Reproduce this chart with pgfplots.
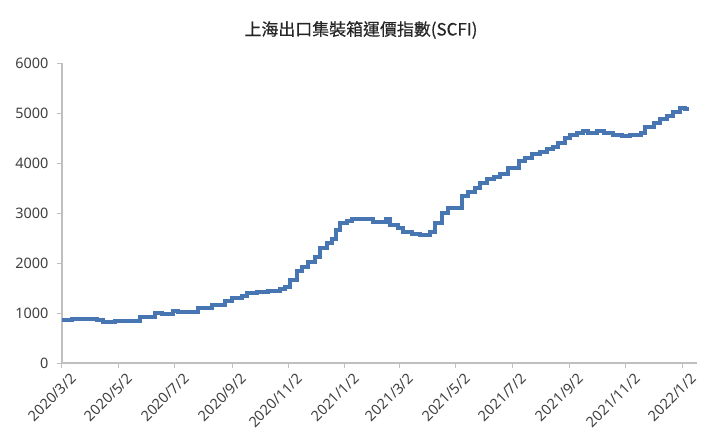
\documentclass[border=0pt]{standalone}
\usepackage{pgfplots}
\pgfplotsset{compat=1.18}
\usepackage{pgfplotstable}
\usepackage{fontspec}
\setmainfont{Noto Sans}
\newfontfamily\cjk[FakeBold=0.6]{Noto Sans CJK TC}
\definecolor{lineblue}{RGB}{72,118,178}
\definecolor{axgray}{RGB}{191,191,191}
\definecolor{txt}{RGB}{64,64,64}

% SCFI; x = days since 2020/3/2
\pgfplotstableread{
day value
0 860
11 890
23 873
38 860
44 813
57 840
84 913
101 1007
108 980
120 1040
126 1020
147 1093
162 1160
176 1247
184 1293
195 1340
200 1393
211 1427
223 1450
236 1473
241 1527
247 1660
254 1847
260 1913
266 2027
274 2127
279 2293
287 2393
292 2480
296 2660
301 2793
308 2847
314 2873
337 2827
350 2873
355 2760
363 2693
369 2627
379 2580
387 2560
398 2627
404 2807
411 2993
418 3093
433 3340
439 3427
447 3493
452 3593
460 3680
467 3727
474 3773
482 3907
494 4047
501 4093
509 4180
517 4227
525 4273
531 4327
537 4393
544 4493
550 4560
557 4607
564 4640
569 4607
579 4640
586 4593
596 4560
606 4540
615 4560
626 4607
631 4713
640 4793
647 4873
655 4947
661 5027
669 5093
674 5073
678 5073
}\scfi

\begin{document}
\begin{tikzpicture}
\useasboundingbox (-62bp,-83bp) rectangle (658bp,363bp);
\begin{axis}[
  at={(0,0)}, anchor=south west,
  scale only axis, width=635bp, height=300bp,
  xmin=0, xmax=687, ymin=0, ymax=6000,
  axis x line*=bottom, axis y line*=left,
  axis line style={axgray, line width=1.3bp},
  tick style={axgray, line width=1bp},
  tick align=outside, major tick length=5bp,
  xtick={0,61,122,184,245,306,365,426,487,549,610,671},
  xticklabels={2020/3/2,2020/5/2,2020/7/2,2020/9/2,2020/11/2,2021/1/2,2021/3/2,2021/5/2,2021/7/2,2021/9/2,2021/11/2,2022/1/2},
  ytick={0,1000,...,6000},
  /pgf/number format/assume math mode=true,
  /pgf/number format/1000 sep={},
  ticklabel style={font=\fontsize{14.5}{16}\selectfont, text=txt},
  yticklabel style={xshift=-5bp},
  xticklabel style={rotate=45, anchor=north east, xshift=6bp, yshift=-5bp},
]
\addplot[const plot, lineblue, line width=4bp] table[x=day, y=value] {\scfi};
\end{axis}
\node[font=\cjk\fontsize{17}{20}\selectfont, text=black!85] at (299bp,333bp) {上海出口集裝箱運價指數(SCFI)};
\end{tikzpicture}
\end{document}
